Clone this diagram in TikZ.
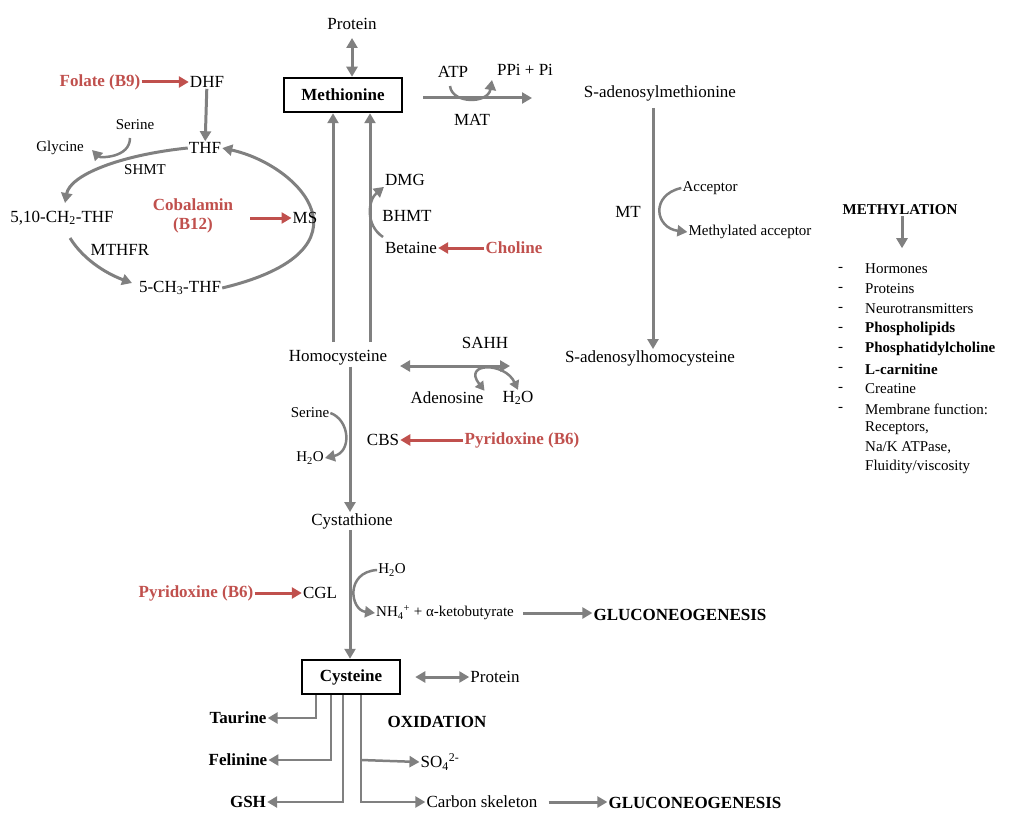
\documentclass[tikz,border=0pt]{standalone}
\usepackage{fontspec}
\setmainfont{Liberation Serif}
\usetikzlibrary{arrows.meta}
\definecolor{gr}{RGB}{128,128,128}
\definecolor{rd}{RGB}{192,80,77}
\begin{document}
\begin{tikzpicture}[x=1pt,y=-1pt,
  t/.style={inner sep=1pt,font=\fontsize{17}{19}\selectfont},
  s/.style={inner sep=1pt,font=\fontsize{15}{17}\selectfont},
  b/.style={t,font=\fontsize{17}{19}\selectfont\bfseries},
  r/.style={b,text=rd},
  box/.style={b,draw,line width=2.5pt,minimum height=34pt,inner sep=6pt},
  ar/.style={draw=gr,line width=3pt,-{Triangle[length=10pt,width=11pt]}},
  da/.style={draw=gr,line width=3pt,{Triangle[length=10pt,width=11pt]}-{Triangle[length=10pt,width=11pt]}},
  ra/.style={draw=rd,line width=3pt,-{Triangle[length=10pt,width=11pt]}}]
\useasboundingbox (0,0) rectangle (1024,821);
% top
\node[t] (prot1) at (352,24) {Protein};
\node[box,minimum width=118pt] (met) at (343,95) {Methionine};
\draw[da] (352,38) coordinate (p1a) -- (met.north -| p1a);
\node[t] (atp) at (453,72) {ATP};
\node[t] (ppi) at (525,70) {PPi + Pi};
\node[t] (mat) at (472,120) {MAT};
\node[t] (sam) at (660,93) {S-adenosylmethionine};
\coordinate (m1) at (423,98); \coordinate (m2) at (532,98);
\draw[ar] (m1) -- (m2);
\coordinate (c1) at (450,86); \coordinate (c2) at (492,80);
\draw[ar,line width=2.5pt] (c1) .. controls (452,104) and (488,104) .. (c2);
% folate
\node[r] (fol) at (100,82) {Folate (B9)};
\node[t] (dhf) at (207,82) {DHF};
\draw[ra] (fol.east) -- (dhf.west);
\node[t] (thf) at (205,148) {THF};
\draw[ar] (dhf) -- (thf);
\node[s] (ser1) at (135,125) {Serine};
\node[s] (gly) at (60,148) {Glycine};
\node[s] (shmt) at (145,170) {SHMT};
\node[t] (ch2) at (62,218) {5,10-CH\textsubscript{2}-THF};
\node[t] (mthfr) at (120,250) {MTHFR};
\node[t] (ch3) at (180,288) {5-CH\textsubscript{3}-THF};
\draw[ar] (thf.west) .. controls (120,155) and (70,175) .. (65,203);
\draw[ar,line width=2.5pt] (130,138) .. controls (130,158) and (100,158) .. (92,150);
\draw[ar] (70,238) .. controls (85,262) and (110,275) .. (132,283);
\draw[ar] (ch3.east) .. controls (380,250) and (300,165) .. (thf.east);
\node[r,align=center] (cob) at (193,216) {Cobalamin\\(B12)};
\node[t] (ms) at (305,218) {MS};
\draw[ra] (250,218) -- (ms.west);
% vertical
\node[t] (hcy) at (338,358) {Homocysteine};
\coordinate (v1) at (333,342); \coordinate (v2) at (370,342);
\draw[ar] (v1) -- (v1 |- met.south);
\draw[ar] (v2) -- (v2 |- met.south);
\node[t] (dmg) at (405,180) {DMG};
\node[t] (bhmt) at (407,216) {BHMT};
\node[t] (bet) at (411,248) {Betaine};
\draw[ar,line width=2.5pt] (383,237) .. controls (365,225) and (368,200) .. (dmg.south west);
\node[r] (chol) at (514,248) {Choline};
\draw[ra] (chol.west) -- (bet.east);
% SAHH
\node[t] (sah) at (650,358) {S-adenosylhomocysteine};
\node[t] (sahh) at (485,343) {SAHH};
\draw[da] (400,366) -- (510,366);
\node[t] (ado) at (447,398) {Adenosine};
\node[t] (h2o1) at (518,398) {H\textsubscript{2}O};
\draw[draw=gr,line width=2.5pt,{Triangle[length=9pt,width=10pt]}-{Triangle[length=9pt,width=10pt]}] (ado.north east) .. controls (462,362) and (505,362) .. (h2o1.north);
\draw[ar] (653,108) -- (sah.north -| 653,0);
\node[t] (mt) at (628,212) {MT};
\node[s] (acc) at (710,188) {Acceptor};
\node[s] (macc) at (750,232) {Methylated acceptor};
\draw[ar,line width=2.5pt] (acc.west) .. controls (650,195) and (655,228) .. (macc.west);
% methylation
\node[b,font=\fontsize{15}{17}\selectfont\bfseries] (methy) at (900,210) {METHYLATION};
\draw[ar] (methy.south) ++(2,0) -- ++(0,32) coordinate (mend);
\foreach \y/\txt in {269/Hormones,289/Proteins,309/Neurotransmitters,329/\textbf{Phospholipids},349/\textbf{Phosphatidylcholine},369/\textbf{L-carnitine},389/Creatine,409/{Membrane function:}}
  {\node[s,anchor=west] at (837,\y) {-}; \node[s,anchor=west] at (864,\y) {\txt};}
\node[s,anchor=west] at (864,428) {Receptors,};
\node[s,anchor=west] at (864,448) {Na/K ATPase,};
\node[s,anchor=west] at (864,467) {Fluidity/viscosity};
% CBS
\node[t] (cys1) at (352,521) {Cystathione};
\draw[ar] (hcy.south -| 350,0) -- (cys1.north -| 350,0);
\node[s] (ser2) at (310,413) {Serine};
\node[s] (h2o2) at (310,458) {H\textsubscript{2}O};
\node[t] (cbs) at (383,440) {CBS};
\draw[ar,line width=2.5pt] (ser2.east) .. controls (350,420) and (352,452) .. (h2o2.east);
\node[r] (pyr1) at (522,440) {Pyridoxine (B6)};
\draw[ra] (pyr1.west) -- (cbs.east);
% CGL
\node[box,minimum width=98pt] (cyst) at (351,677) {Cysteine};
\draw[ar] (cys1.south -| 350,0) -- (cyst.north -| 350,0);
\node[s] (h2o3) at (392,570) {H\textsubscript{2}O};
\node[s,anchor=west] (nh4) at (375,613) {NH\textsubscript{4}\textsuperscript{+} + α-ketobutyrate};
\node[t] (cgl) at (320,593) {CGL};
\draw[ar,line width=2.5pt] (h2o3.west) .. controls (345,572) and (350,610) .. (nh4.west);
\node[r] (pyr2) at (196,593) {Pyridoxine (B6)};
\draw[ra] (pyr2.east) -- (cgl.west);
\node[b] (glu1) at (680,615) {GLUCONEOGENESIS};
\draw[ar] (nh4.east) ++(8,0) coordinate (n2) -- (glu1.west |- n2);
% cysteine
\node[t] (prot2) at (495,677) {Protein};
\draw[da] (cyst.east) ++(14,0) -- (prot2.west);
\node[b] (tau) at (238,718) {Taurine};
\node[b] (fel) at (238,760) {Felinine};
\node[b] (gsh) at (248,802) {GSH};
\node[b] (oxi) at (437,722) {OXIDATION};
\node[t] (so4) at (440,762) {SO\textsubscript{4}\textsuperscript{2-}};
\node[t] (cs) at (482,802) {Carbon skeleton};
\node[b] (glu2) at (695,803) {GLUCONEOGENESIS};
\draw[ar,line width=2.5pt] (cyst.south -| 316,0) |- (tau.east);
\draw[ar,line width=2.5pt] (cyst.south -| 331,0) |- (fel.east);
\draw[ar,line width=2.5pt] (cyst.south -| 343,0) |- (gsh.east);
\draw[ar,line width=2.5pt] (cyst.south -| 361,0) |- (cs.west);
\draw[ar,line width=2.5pt] (361,760) -- (so4.west);
\draw[ar] (cs.east) ++(10,0) coordinate (cs2) -- (glu2.west |- cs2);
\end{tikzpicture}
\end{document}
